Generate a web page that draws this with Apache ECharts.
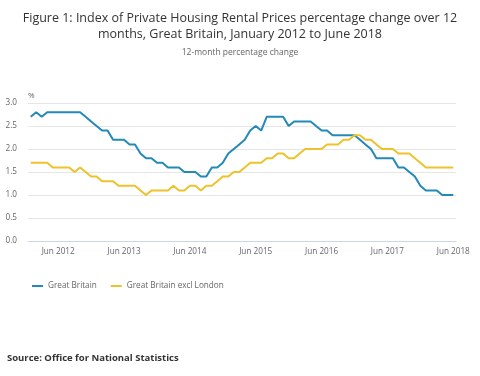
<!DOCTYPE html>
<html>
<head>
<meta charset="utf-8">
<script src="https://cdn.jsdelivr.net/npm/echarts@6/dist/echarts.min.js"></script>
<style>
  html, body { margin: 0; padding: 0; background: #fff; }
  #chart { width: 480px; height: 376px; }
</style>
</head>
<body>
<div id="chart"></div>
<script>
// monthly, Jan 2012 .. Jun 2018
const years = [2012, 2013, 2014, 2015, 2016, 2017, 2018];
const monthNames = ['Jan', 'Feb', 'Mar', 'Apr', 'May', 'Jun', 'Jul', 'Aug', 'Sep', 'Oct', 'Nov', 'Dec'];

const greatBritain = [
  2.7, 2.8, 2.7, 2.8, 2.8, 2.8, 2.8, 2.8, 2.8, 2.8, 2.7, 2.6,
  2.5, 2.4, 2.4, 2.2, 2.2, 2.2, 2.1, 2.1, 1.9, 1.8, 1.8, 1.7,
  1.7, 1.6, 1.6, 1.6, 1.5, 1.5, 1.5, 1.4, 1.4, 1.6, 1.6, 1.7,
  1.9, 2.0, 2.1, 2.2, 2.4, 2.5, 2.4, 2.7, 2.7, 2.7, 2.7, 2.5,
  2.6, 2.6, 2.6, 2.6, 2.5, 2.4, 2.4, 2.3, 2.3, 2.3, 2.3, 2.3,
  2.2, 2.1, 2.0, 1.8, 1.8, 1.8, 1.8, 1.6, 1.6, 1.5, 1.4, 1.2,
  1.1, 1.1, 1.1, 1.0, 1.0, 1.0
];
const gbExclLondon = [
  1.7, 1.7, 1.7, 1.7, 1.6, 1.6, 1.6, 1.6, 1.5, 1.6, 1.5, 1.4,
  1.4, 1.3, 1.3, 1.3, 1.2, 1.2, 1.2, 1.2, 1.1, 1.0, 1.1, 1.1,
  1.1, 1.1, 1.2, 1.1, 1.1, 1.2, 1.2, 1.1, 1.2, 1.2, 1.3, 1.4,
  1.4, 1.5, 1.5, 1.6, 1.7, 1.7, 1.7, 1.8, 1.8, 1.9, 1.9, 1.8,
  1.8, 1.9, 2.0, 2.0, 2.0, 2.0, 2.1, 2.1, 2.1, 2.2, 2.2, 2.3,
  2.3, 2.2, 2.2, 2.1, 2.0, 2.0, 2.0, 1.9, 1.9, 1.9, 1.8, 1.7,
  1.6, 1.6, 1.6, 1.6, 1.6, 1.6
];

let categories = [];
years.forEach(y => monthNames.forEach(m => categories.push(m + ' ' + y)));
categories = categories.slice(0, greatBritain.length);

const isJune = (index) => index % 12 === 5;

const font = '"Open Sans", sans-serif';
const myChart = echarts.init(document.getElementById('chart'));

let option = {
  animation: false,
  textStyle: { fontFamily: font },
  title: [
    {
      text: 'Figure 1: Index of Private Housing Rental Prices percentage change over 12\nmonths, Great Britain, January 2012 to June 2018',
      left: 'center',
      top: 5,
      textStyle: { fontFamily: font, fontSize: 12.5, fontWeight: 'normal', color: '#333', lineHeight: 16 }
    },
    {
      text: '12-month percentage change',
      left: 'center',
      top: 43,
      textStyle: { fontFamily: font, fontSize: 8.5, fontWeight: 'normal', color: '#666' }
    }
  ],
  legend: {
    left: 27,
    top: 277,
    icon: 'rect',
    itemWidth: 11,
    itemHeight: 2,
    itemGap: 14,
    textStyle: { fontFamily: font, fontSize: 8.2, color: '#666' },
    data: ['Great Britain', 'Great Britain excl London']
  },
  grid: { left: 28, right: 24, top: 103, bottom: 135 },
  xAxis: {
    type: 'category',
    data: categories,
    boundaryGap: true,
    axisLine: { lineStyle: { color: '#ccd6eb' } },
    axisTick: { alignWithLabel: true, interval: isJune, length: 5, lineStyle: { color: '#ccd6eb' } },
    axisLabel: {
      interval: isJune,
      color: '#666',
      fontSize: 8.2,
      margin: 7
    }
  },
  yAxis: {
    type: 'value',
    min: 0,
    max: 3,
    interval: 0.5,
    name: '%',
    nameLocation: 'end',
    nameGap: 3,
    nameTextStyle: { color: '#666', fontSize: 8, align: 'left' },
    axisLine: { show: false },
    axisTick: { show: false },
    axisLabel: { color: '#666', fontSize: 8.2, margin: 11, formatter: v => v.toFixed(1) },
    splitLine: { lineStyle: { color: '#e6e6e6' } }
  },
  series: [
    {
      name: 'Great Britain',
      type: 'line',
      data: greatBritain,
      showSymbol: false,
      color: '#2389b8',
      lineStyle: { width: 2 }
    },
    {
      name: 'Great Britain excl London',
      type: 'line',
      data: gbExclLondon,
      showSymbol: false,
      color: '#eec22b',
      lineStyle: { width: 2 }
    }
  ],
  graphic: [
    {
      type: 'text',
      left: 7,
      top: 353,
      style: {
        text: 'Source: Office for National Statistics',
        font: 'bold 9.5px "Open Sans", sans-serif',
        fill: '#333'
      }
    }
  ]
};

myChart.setOption(option);
</script>
</body>
</html>
